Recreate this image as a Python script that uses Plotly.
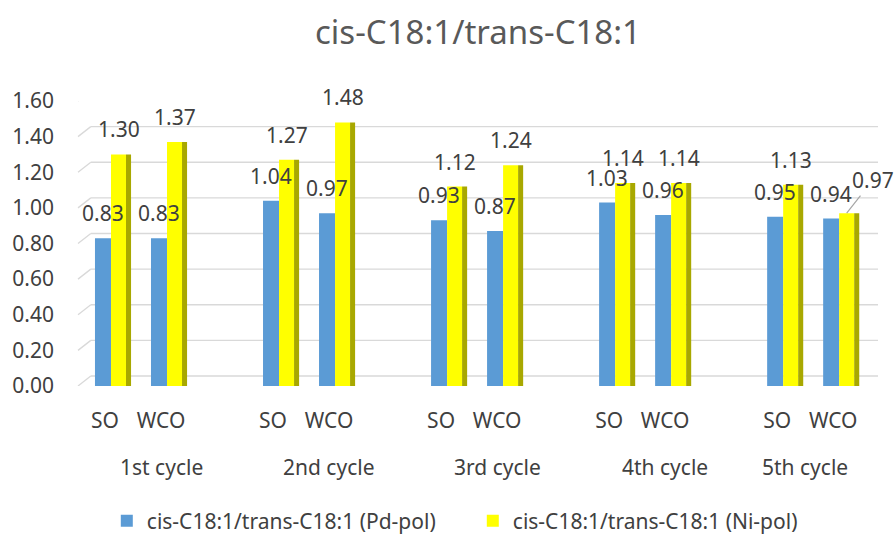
import plotly.graph_objects as go

cycles = ["1st cycle", "2nd cycle", "3rd cycle", "4th cycle", "5th cycle"]
oils = ["SO", "WCO"]
pd_pol = [0.83, 0.83, 1.04, 0.97, 0.93, 0.87, 1.03, 0.96, 0.95, 0.94]
ni_pol = [1.30, 1.37, 1.27, 1.48, 1.12, 1.24, 1.14, 1.14, 1.13, 0.97]
y_ticks = [0.0, 0.2, 0.4, 0.6, 0.8, 1.0, 1.2, 1.4, 1.6]

name_pd = "cis-C18:1/trans-C18:1 (Pd-pol)"
name_ni = "cis-C18:1/trans-C18:1 (Ni-pol)"

FONT = "Noto Sans"
TXT = "#404040"
FS = 21

# slot positions: 3 slots per cycle (SO, WCO, empty)
xpos = []
xlab = []
for ci, c in enumerate(cycles):
    for oi, o in enumerate(oils):
        xpos.append(3 * ci + oi)
        xlab.append(o)

# bar geometry in slot units
W_B, OFF_B = 0.286, -0.179
W_Y, OFF_Y = 0.268, 0.107
W_S, OFF_S = 0.09, 0.375

fig = go.Figure()
fig.add_trace(go.Bar(x=xpos, y=pd_pol, name=name_pd, width=W_B, offset=OFF_B,
                     marker=dict(color="#5B9BD5", line=dict(width=0)), legend="legend"))
fig.add_trace(go.Bar(x=xpos, y=ni_pol, name=name_ni, width=W_Y, offset=OFF_Y,
                     marker=dict(color="#FFFF00", line=dict(width=0)), legend="legend2"))
fig.add_trace(go.Bar(x=xpos, y=ni_pol, showlegend=False, width=W_S, offset=OFF_S,
                     marker=dict(color="#A8A800", line=dict(width=0)), hoverinfo="skip"))

# 3D-style back-wall gridlines (shifted up/right) with slanted left stubs
shapes = []
BACK_X = 0.016   # paper fraction where the back wall starts
for v in y_ticks:
    shapes.append(dict(type="line", xref="paper", x0=BACK_X, x1=1.0,
                       yref="y", ysizemode="pixel", yanchor=v, y0=10, y1=10,
                       line=dict(color="#D9D9D9", width=1.3), layer="below"))
    shapes.append(dict(type="line", xref="paper", x0=0.0, x1=BACK_X,
                       yref="y", ysizemode="pixel", yanchor=v, y0=0, y1=10,
                       line=dict(color="#D9D9D9", width=1.3), layer="below"))

ann = []
for i, x in enumerate(xpos):
    ann.append(dict(x=x + OFF_B + W_B / 2, y=pd_pol[i], text=f"{pd_pol[i]:.2f}",
                    showarrow=False, yshift=25, xref="x", yref="y",
                    font=dict(family=FONT, size=FS, color=TXT)))
    if i == len(xpos) - 1:
        ann.append(dict(x=x + OFF_Y + W_Y / 2, y=ni_pol[i], text=f"{ni_pol[i]:.2f}",
                        showarrow=True, arrowhead=0, arrowwidth=1.2, arrowcolor="#A6A6A6",
                        ax=26, ay=-33, xref="x", yref="y", standoff=0,
                        font=dict(family=FONT, size=FS, color=TXT)))
    else:
        ann.append(dict(x=x + OFF_Y + W_Y / 2, y=ni_pol[i], text=f"{ni_pol[i]:.2f}",
                        showarrow=False, yshift=25, xref="x", yref="y",
                        font=dict(family=FONT, size=FS, color=TXT)))

for ci, c in enumerate(cycles):
    center = 3 * ci + (1 if ci < len(cycles) - 1 else 0.5)
    ann.append(dict(x=center, y=0, xref="x", yref="paper", text=c, showarrow=False,
                    yanchor="middle", yshift=-81, font=dict(family=FONT, size=FS, color=TXT)))

fig.update_layout(
    width=895, height=534,
    margin=dict(l=78, r=17, t=101, b=148, autoexpand=False),
    paper_bgcolor="white", plot_bgcolor="white",
    barmode="overlay",
    title=dict(text="cis-C18:1/trans-C18:1", x=0.5, xref="paper", xanchor="center",
               y=1 - 32 / 534, yanchor="middle",
               font=dict(family=FONT, size=33, color="#595959")),
    xaxis=dict(range=[-0.482, 13.80], tickvals=xpos, ticktext=xlab, showgrid=False,
               zeroline=False, showline=False, ticks="", ticklabelstandoff=20,
               tickfont=dict(family=FONT, size=FS, color=TXT)),
    yaxis=dict(range=[0, 1.6], tickvals=y_ticks, tickformat=".2f", showgrid=False,
               zeroline=False, showline=False, ticks="", ticklabelstandoff=23,
               tickfont=dict(family=FONT, size=FS, color=TXT)),
    legend=dict(orientation="h", x=0.036, xanchor="left", y=-0.4737, yanchor="middle",
                font=dict(family=FONT, size=FS, color=TXT), itemwidth=30,
                bgcolor="rgba(0,0,0,0)"),
    legend2=dict(orientation="h", x=0.4935, xanchor="left", y=-0.4737, yanchor="middle",
                 font=dict(family=FONT, size=FS, color=TXT), itemwidth=30,
                 bgcolor="rgba(0,0,0,0)"),
    annotations=ann,
    shapes=shapes,
    showlegend=True,
)
fig.update_traces(cliponaxis=False)

fig.write_html(
    "out.html",
    config={"displayModeBar": False},
    post_script="document.body.style.margin='0';document.body.style.overflow='hidden';",
)
